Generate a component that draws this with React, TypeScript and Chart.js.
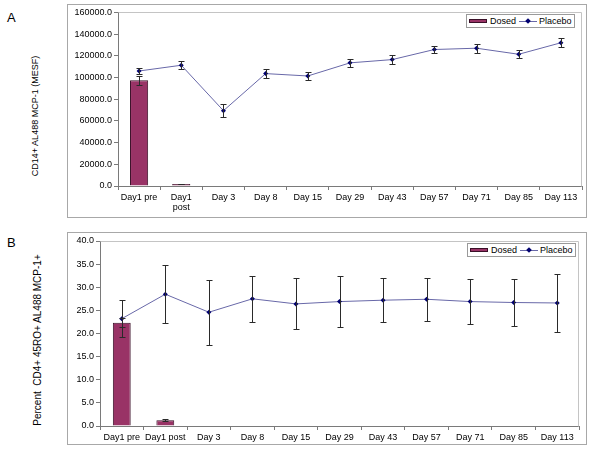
import React, { useEffect, useRef } from "react";
import { Chart, registerables } from "chart.js";

Chart.register(...registerables);

// ---------- Data ----------
const categoriesA: (string | string[])[] = [
  "Day1 pre", ["Day1", "post"], "Day 3", "Day 8", "Day 15", "Day 29",
  "Day 43", "Day 57", "Day 71", "Day 85", "Day 113",
];
const categoriesB: string[] = [
  "Day1 pre", "Day1 post", "Day 3", "Day 8", "Day 15", "Day 29",
  "Day 43", "Day 57", "Day 71", "Day 85", "Day 113",
];

const dosedA = [97500, 1800, null, null, null, null, null, null, null, null, null];
const dosedErrA = [4100, 300, null, null, null, null, null, null, null, null, null];
const placeboA = [106000, 111300, 69400, 103600, 101400, 113500, 116500, 125800, 127000, 121400, 132000];
const placeboErrA = [3000, 3700, 6000, 4000, 3700, 4000, 4000, 3300, 4000, 3700, 4200];

const dosedB = [22.3, 1.25, null, null, null, null, null, null, null, null, null];
const dosedErrB = [1.0, 0.2, null, null, null, null, null, null, null, null, null];
const placeboB = [23.2, 28.5, 24.6, 27.5, 26.4, 26.9, 27.2, 27.4, 26.9, 26.7, 26.6];
const placeboErrB = [4.0, 6.3, 7.0, 5.0, 5.5, 5.5, 4.7, 4.7, 4.9, 5.0, 6.2];

const yMaxA = 160000;
const yStepA = 20000;
const yMaxB = 40;
const yStepB = 5;

const titleA = "CD14+ AL488 MCP-1 (MESF)";
const titleB = "Percent  CD4+ 45RO+ AL488 MCP-1+";

// ---------- Styles ----------
const FONT = "'Liberation Sans', Arial, Helvetica, sans-serif";
const BAR_COLOR = "#993366";
const BAR_BORDER = "#3a1028";
const LINE_COLOR = "#6868a8";
const POINT_COLOR = "#000070";
const ERR_COLOR = "#2a2a2a";
const AXIS_COLOR = "#7a7a7a";

const errorBarPlugin = {
  id: "errorBars",
  afterDatasetsDraw(chart: any) {
    const ctx = chart.ctx;
    const yScale = chart.scales.y;
    chart.data.datasets.forEach((ds: any, di: number) => {
      const errs = ds.errorBars;
      if (!errs) return;
      const meta = chart.getDatasetMeta(di);
      meta.data.forEach((el: any, i: number) => {
        const v = ds.data[i];
        const e = errs[i];
        if (v == null || e == null) return;
        const x = Math.round(el.x) + 0.5;
        const yt = Math.round(yScale.getPixelForValue(v + e)) + 0.5;
        const yb = Math.round(yScale.getPixelForValue(v - e)) + 0.5;
        const cap = 3;
        ctx.save();
        ctx.strokeStyle = ERR_COLOR;
        ctx.lineWidth = 1;
        ctx.beginPath();
        ctx.moveTo(x, yt);
        ctx.lineTo(x, yb);
        ctx.moveTo(x - cap, yt);
        ctx.lineTo(x + cap, yt);
        ctx.moveTo(x - cap, yb);
        ctx.lineTo(x + cap, yb);
        ctx.stroke();
        ctx.restore();
      });
    });
  },
};

const plotBorderPlugin = {
  id: "plotBorder",
  beforeDatasetsDraw(chart: any) {
    const { ctx, chartArea } = chart;
    ctx.save();
    ctx.strokeStyle = "#c4c4c4";
    ctx.lineWidth = 1;
    ctx.beginPath();
    const l = Math.round(chartArea.left) + 0.5;
    const t = Math.round(chartArea.top) + 0.5;
    const r = Math.round(chartArea.right) - 0.5;
    const b = Math.round(chartArea.bottom) + 0.5;
    ctx.moveTo(l, t);
    ctx.lineTo(r, t);
    ctx.lineTo(r, b);
    ctx.stroke();
    ctx.restore();
  },
};

type PanelProps = {
  labels: (string | string[])[];
  dosed: (number | null)[];
  dosedErr: (number | null)[];
  placebo: number[];
  placeboErr: number[];
  yMax: number;
  yStep: number;
  width: number;
  height: number;
  padLeft: number; // y axis box width
  padTop: number;
  padRight: number;
  xAxisHeight: number;
  barPct: number;
};

function Panel(p: PanelProps) {
  const ref = useRef<HTMLCanvasElement | null>(null);
  useEffect(() => {
    if (!ref.current) return;
    const chart = new Chart(ref.current, {
      type: "bar",
      data: {
        labels: p.labels as any,
        datasets: [
          {
            type: "line",
            label: "Placebo",
            data: p.placebo,
            borderColor: LINE_COLOR,
            borderWidth: 1,
            backgroundColor: POINT_COLOR,
            pointBackgroundColor: POINT_COLOR,
            pointBorderColor: POINT_COLOR,
            pointStyle: "rectRot",
            pointRadius: 2.5,
            pointBorderWidth: 0,
            tension: 0,
            order: 0,
            errorBars: p.placeboErr,
          } as any,
          {
            type: "bar",
            label: "Dosed",
            data: p.dosed,
            backgroundColor: BAR_COLOR,
            borderColor: BAR_BORDER,
            borderWidth: 1,
            categoryPercentage: 1,
            barPercentage: p.barPct,
            order: 1,
            errorBars: p.dosedErr,
          } as any,
        ],
      },
      options: {
        responsive: false,
        animation: false,
        layout: {
          padding: { left: 0, top: p.padTop, right: p.padRight, bottom: 0 },
        },
        plugins: {
          legend: { display: false },
          tooltip: { enabled: false },
        },
        scales: {
          x: {
            offset: true,
            grid: {
              offset: true,
              drawOnChartArea: false,
              drawTicks: true,
              tickLength: 4,
              color: AXIS_COLOR,
            },
            border: { color: AXIS_COLOR, width: 1 },
            ticks: {
              color: "#000",
              font: { family: FONT, size: 9, lineHeight: 1.05 },
              padding: 3,
              maxRotation: 0,
              autoSkip: false,
            },
            afterFit: (scale: any) => {
              scale.height = p.xAxisHeight;
            },
          },
          y: {
            min: 0,
            max: p.yMax,
            grid: {
              drawOnChartArea: false,
              drawTicks: true,
              tickLength: 4,
              color: AXIS_COLOR,
            },
            border: { color: AXIS_COLOR, width: 1 },
            ticks: {
              stepSize: p.yStep,
              color: "#000",
              font: { family: FONT, size: 9 },
              padding: 2,
              callback: (v: any) => Number(v).toFixed(1),
            },
            afterFit: (scale: any) => {
              scale.width = p.padLeft;
            },
          },
        },
      },
      plugins: [plotBorderPlugin, errorBarPlugin],
    });
    return () => chart.destroy();
  }, []);
  return (
    <canvas
      ref={ref}
      width={p.width}
      height={p.height}
      style={{ position: "absolute", left: 0, top: 0, width: p.width, height: p.height }}
    />
  );
}

function Legend({ left, top }: { left: number; top: number }) {
  return (
    <div
      style={{
        position: "absolute",
        left,
        top,
        width: 109,
        height: 14,
        boxSizing: "border-box",
        border: "1px solid #9a9a9a",
        background: "#fff",
        fontFamily: FONT,
        fontSize: 9,
        lineHeight: "12px",
        color: "#000",
        whiteSpace: "nowrap",
      }}
    >
      <span
        style={{
          position: "absolute",
          left: 2,
          top: 4,
          width: 18,
          height: 4,
          background: BAR_COLOR,
          border: "1px solid " + BAR_BORDER,
          boxSizing: "border-box",
        }}
      />
      <span style={{ position: "absolute", left: 23, top: 0 }}>Dosed</span>
      <span
        style={{
          position: "absolute",
          left: 52,
          top: 6,
          width: 18,
          height: 1,
          background: LINE_COLOR,
        }}
      />
      <span
        style={{
          position: "absolute",
          left: 59,
          top: 4,
          width: 4,
          height: 4,
          background: POINT_COLOR,
          transform: "rotate(45deg)",
        }}
      />
      <span style={{ position: "absolute", left: 72, top: 0 }}>Placebo</span>
    </div>
  );
}

function RotTitle({ cx, cy, text, size }: { cx: number; cy: number; text: string; size: number }) {
  return (
    <div
      style={{
        position: "absolute",
        left: cx,
        top: cy,
        transform: "translate(-50%, -50%) rotate(-90deg)",
        fontFamily: FONT,
        fontSize: size,
        whiteSpace: "pre",
        color: "#000",
      }}
    >
      {text}
    </div>
  );
}

export default function App() {
  return (
    <div
      style={{
        position: "fixed",
        left: 0,
        top: 0,
        width: 600,
        height: 450,
        background: "#fff",
        overflow: "hidden",
      }}
    >
      {/* Panel A */}
      <div style={{ position: "absolute", left: 7, top: 11, fontFamily: FONT, fontSize: 13, lineHeight: "13px" }}>A</div>
      <RotTitle cx={35} cy={116} text={titleA} size={9} />
      <div
        style={{
          position: "absolute",
          left: 67,
          top: 4,
          width: 520,
          height: 214,
          boxSizing: "border-box",
          border: "1px solid #a8a8a8",
        }}
      >
        <Panel
          labels={categoriesA}
          dosed={dosedA}
          dosedErr={dosedErrA}
          placebo={placeboA}
          placeboErr={placeboErrA}
          yMax={yMaxA}
          yStep={yStepA}
          width={518}
          height={212}
          padLeft={50}
          padTop={7}
          padRight={4}
          xAxisHeight={31}
          barPct={0.43}
        />
      </div>
      <Legend left={466} top={14} />

      {/* Panel B */}
      <div style={{ position: "absolute", left: 7, top: 236, fontFamily: FONT, fontSize: 13, lineHeight: "13px" }}>B</div>
      <RotTitle cx={37} cy={340} text={titleB} size={10} />
      <div
        style={{
          position: "absolute",
          left: 67,
          top: 232,
          width: 520,
          height: 213,
          boxSizing: "border-box",
          border: "1px solid #a8a8a8",
        }}
      >
        <Panel
          labels={categoriesB}
          dosed={dosedB}
          dosedErr={dosedErrB}
          placebo={placeboB}
          placeboErr={placeboErrB}
          yMax={yMaxB}
          yStep={yStepB}
          width={518}
          height={211}
          padLeft={32}
          padTop={8}
          padRight={7}
          xAxisHeight={18}
          barPct={0.41}
        />
      </div>
      <Legend left={467} top={243} />
    </div>
  );
}
